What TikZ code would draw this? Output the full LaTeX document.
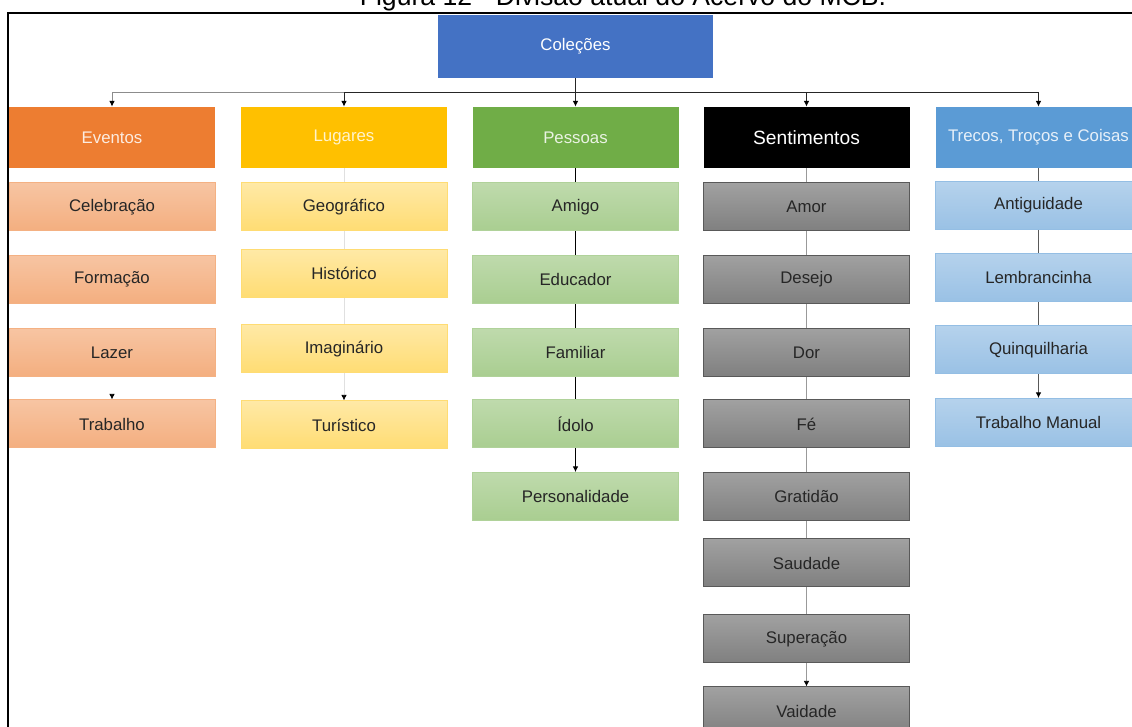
\documentclass[tikz,border=0pt]{standalone}
\usepackage{fontspec}
\setmainfont{Liberation Sans}
\usetikzlibrary{arrows.meta,backgrounds}

\definecolor{raiz}{HTML}{4472C4}
\definecolor{eventos}{HTML}{ED7D31}
\definecolor{lugares}{HTML}{FFC000}
\definecolor{pessoas}{HTML}{70AD47}
\definecolor{trecos}{HTML}{5B9BD5}

\begin{document}
\begin{tikzpicture}[x=0.5pt,y=-0.5pt,
    tip/.style={-{Latex[length=2.8pt,width=2.8pt,black]}},
    raizbox/.style={fill=raiz, text=white, minimum width=137.5pt, minimum height=31.5pt,
        inner sep=0pt, font=\fontsize{8.4}{10}\selectfont},
    catbox/.style n args={2}{fill=#1, text=#2, minimum width=103pt, minimum height=30.5pt,
        inner sep=0pt, font=\fontsize{8.4}{10}\selectfont},
    subbox/.style n args={3}{top color=#1, bottom color=#2, draw=#3, line width=0.5pt,
        minimum width=103pt, minimum height=24pt, inner sep=0pt, text=black!85,
        font=\fontsize{8.4}{10}\selectfont}]

    \useasboundingbox (0,0) rectangle (1132,727);

    % legenda e moldura
    \node[anchor=base, font=\fontsize{13.3}{14}\selectfont] (legenda) at (623,6)
        {Figura 12 - Divisão atual do Acervo do MCB.};
    \draw[line width=0.8pt] (8,13) rectangle (1150,745);

    % raiz
    \node[raizbox] (raiz) at (575.5,46.5) {Coleções};

    % categorias
    \node[catbox={eventos}{eventos!15}] (ev) at (112,137.5) {Eventos};
    \node[catbox={lugares}{lugares!20}] (lu) at (344,137.5) {Lugares};
    \node[catbox={pessoas}{pessoas!15}] (pe) at (575.5,137.5) {Pessoas};
    \node[catbox={black}{white}, font=\fontsize{9.6}{11}\selectfont] (se) at (806.5,137.5) {Sentimentos};
    \node[catbox={trecos}{trecos!15}] (tr) at (1038.5,137.5) {Trecos, Troços e Coisas};

    \draw[black!45, line width=0.5pt, tip] (raiz.south) -- ++(0,14) -| (ev.north);
    \draw[black!85, line width=0.5pt, tip] (raiz.south) -- ++(0,14) -| (lu.north);
    \draw[black!85, line width=0.5pt, tip] (raiz.south) -- (pe.north);
    \draw[black!85, line width=0.5pt, tip] (raiz.south) -- ++(0,14) -| (se.north);
    \draw[black!85, line width=0.5pt, tip] (raiz.south) -- ++(0,14) -| (tr.north);

    % Eventos
    \node[subbox={eventos!45}{eventos!62}{eventos!60}] (ev1) at (112,207) {Celebração};
    \node[subbox={eventos!45}{eventos!62}{eventos!60}] (ev2) at (112,279.5) {Formação};
    \node[subbox={eventos!45}{eventos!62}{eventos!60}] (ev3) at (112,352.5) {Lazer};
    \node[subbox={eventos!45}{eventos!62}{eventos!60}] (ev4) at (112,424) {Trabalho};

    % Lugares
    \node[subbox={lugares!35}{lugares!55}{lugares!55}] (lu1) at (344,207) {Geográfico};
    \node[subbox={lugares!35}{lugares!55}{lugares!55}] (lu2) at (344,273.5) {Histórico};
    \node[subbox={lugares!35}{lugares!55}{lugares!55}] (lu3) at (344,349) {Imaginário};
    \node[subbox={lugares!35}{lugares!55}{lugares!55}] (lu4) at (344,425) {Turístico};

    % Pessoas
    \node[subbox={pessoas!45}{pessoas!60}{pessoas!55}] (pe1) at (575.5,207) {Amigo};
    \node[subbox={pessoas!45}{pessoas!60}{pessoas!55}] (pe2) at (575.5,279.5) {Educador};
    \node[subbox={pessoas!45}{pessoas!60}{pessoas!55}] (pe3) at (575.5,352.5) {Familiar};
    \node[subbox={pessoas!45}{pessoas!60}{pessoas!55}] (pe4) at (575.5,424) {Ídolo};
    \node[subbox={pessoas!45}{pessoas!60}{pessoas!55}] (pe5) at (575.5,496.5) {Personalidade};

    % Sentimentos
    \node[subbox={black!37}{black!50}{black!65}] (se1) at (806.5,207) {Amor};
    \node[subbox={black!37}{black!50}{black!65}] (se2) at (806.5,279.5) {Desejo};
    \node[subbox={black!37}{black!50}{black!65}] (se3) at (806.5,352.5) {Dor};
    \node[subbox={black!37}{black!50}{black!65}] (se4) at (806.5,424) {Fé};
    \node[subbox={black!37}{black!50}{black!65}] (se5) at (806.5,496.5) {Gratidão};
    \node[subbox={black!37}{black!50}{black!65}] (se6) at (806.5,563) {Saudade};
    \node[subbox={black!37}{black!50}{black!65}] (se7) at (806.5,639) {Superação};
    \node[subbox={black!37}{black!50}{black!65}] (se8) at (806.5,711) {Vaidade};

    % Trecos, Troços e Coisas
    \node[subbox={trecos!45}{trecos!62}{trecos!65}] (tr1) at (1038.5,205.5) {Antiguidade};
    \node[subbox={trecos!45}{trecos!62}{trecos!65}] (tr2) at (1038.5,277.5) {Lembrancinha};
    \node[subbox={trecos!45}{trecos!62}{trecos!65}] (tr3) at (1038.5,350) {Quinquilharia};
    \node[subbox={trecos!45}{trecos!62}{trecos!65}] (tr4) at (1038.5,422.5) {Trabalho Manual};

    % ligacoes das colunas, por tras das caixas
    \begin{scope}[on background layer, line width=0.5pt]
        \draw[white, tip] (ev) -- (ev4);
        \draw[black!12, tip] (lu) -- (lu4);
        \draw[black, tip] (pe) -- (pe5);
        \draw[black!40, tip] (se) -- (se8);
        \draw[black!65, tip] (tr) -- (tr4);
    \end{scope}

\end{tikzpicture}
\end{document}
